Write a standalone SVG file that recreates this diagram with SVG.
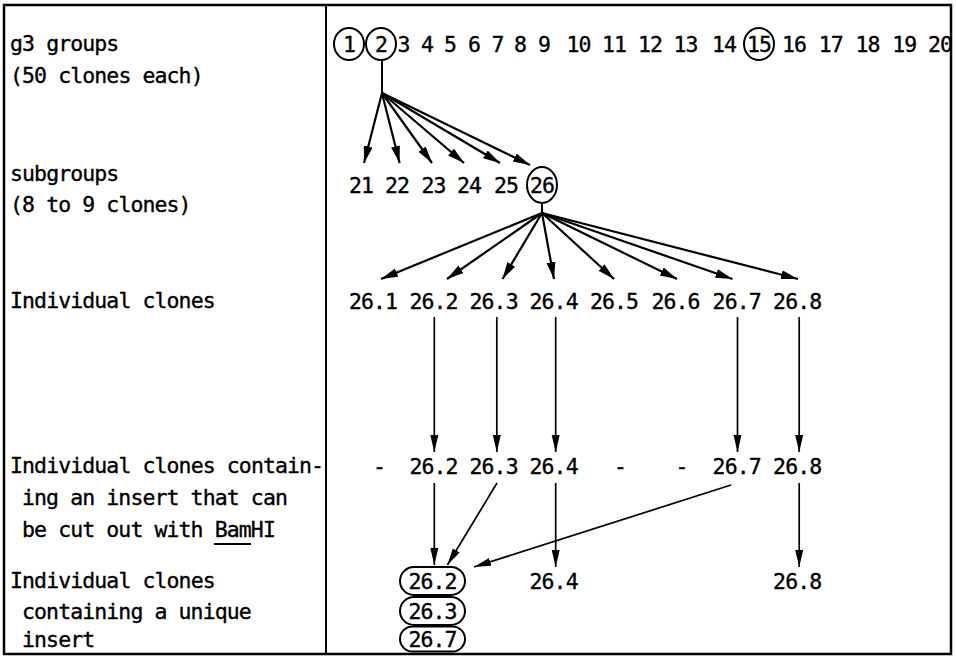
<svg xmlns="http://www.w3.org/2000/svg" width="956" height="657" viewBox="0 0 956 657">
<defs>
<marker id="ah" markerUnits="userSpaceOnUse" markerWidth="18" markerHeight="10" refX="17" refY="4.5" orient="auto"><path d="M0,0 L17,4.5 L0,9 z" fill="#000"/></marker>
<marker id="av" markerUnits="userSpaceOnUse" markerWidth="18" markerHeight="9" refX="17" refY="4" orient="auto"><path d="M0,0 L17,4 L0,8 z" fill="#000"/></marker>
</defs>
<style>
text{font-family:"DejaVu Sans Mono","Liberation Mono",monospace;font-size:21.5px;letter-spacing:-0.9px;fill:#000;stroke:#000;stroke-width:0.35}
.n{text-anchor:middle}
.frame{fill:none;stroke:#000;stroke-width:2.5}
.c{fill:none;stroke:#000;stroke-width:2}
.a{stroke:#000;stroke-width:2.2;fill:none;marker-end:url(#ah)}
.v{stroke:#000;stroke-width:1.7;fill:none;marker-end:url(#av)}
.s{stroke:#000;stroke-width:2;fill:none}
</style>
<rect class="frame" x="4" y="5" width="947" height="649"/>
<line class="s" x1="326" y1="5" x2="326" y2="654" stroke-width="2.5"/>
<g id="labels">
<text x="10" y="51">g3 groups</text>
<text x="10" y="83">(50 clones each)</text>
<text x="10" y="181">subgroups</text>
<text x="10" y="212">(8 to 9 clones)</text>
<text x="10" y="308">Individual clones</text>
<text x="10" y="473">Individual clones contain-</text>
<text x="22" y="505">ing an insert that can</text>
<text x="22" y="537">be cut out with BamHI</text>
<line class="s" x1="214" y1="544" x2="251" y2="544" stroke-width="1.5"/>
<text x="10" y="588">Individual clones</text>
<text x="22" y="619">containing a unique</text>
<text x="22" y="647">insert</text>
</g>
<g id="row1">
<ellipse class="c" cx="349" cy="44" rx="15" ry="16"/>
<ellipse class="c" cx="381" cy="44" rx="15" ry="16"/>
<ellipse class="c" cx="759" cy="44" rx="15" ry="16"/>
<text class="n" x="349" y="52">1</text>
<text class="n" x="381" y="52">2</text>
<text class="n" x="403.6" y="52">3</text>
<text class="n" x="427" y="52">4</text>
<text class="n" x="450" y="52">5</text>
<text class="n" x="474" y="52">6</text>
<text class="n" x="497.6" y="52">7</text>
<text class="n" x="520" y="52">8</text>
<text class="n" x="544" y="52">9</text>
<text class="n" x="578.6" y="52">10</text>
<text class="n" x="614" y="52">11</text>
<text class="n" x="650" y="52">12</text>
<text class="n" x="685.6" y="52">13</text>
<text class="n" x="724" y="52">14</text>
<text class="n" x="759" y="52">15</text>
<text class="n" x="794" y="52">16</text>
<text class="n" x="830.7" y="52">17</text>
<text class="n" x="867.5" y="52">18</text>
<text class="n" x="904.3" y="52">19</text>
<text class="n" x="940" y="52">20</text>
</g>
<g id="row2">
<text class="n" x="361" y="193">21</text>
<text class="n" x="397" y="193">22</text>
<text class="n" x="433.5" y="193">23</text>
<text class="n" x="469" y="193">24</text>
<text class="n" x="506" y="193">25</text>
<ellipse class="c" cx="542" cy="185" rx="15" ry="18"/>
<text class="n" x="542" y="193">26</text>
</g>
<g id="row3">
<text class="n" x="373" y="309">26.1</text>
<text class="n" x="433.5" y="309">26.2</text>
<text class="n" x="493.6" y="309">26.3</text>
<text class="n" x="553.6" y="309">26.4</text>
<text class="n" x="614" y="309">26.5</text>
<text class="n" x="675.5" y="309">26.6</text>
<text class="n" x="736.7" y="309">26.7</text>
<text class="n" x="797.2" y="309">26.8</text>
</g>
<g id="row4">
<text class="n" x="379" y="474">-</text>
<text class="n" x="433.5" y="474">26.2</text>
<text class="n" x="493.6" y="474">26.3</text>
<text class="n" x="553.6" y="474">26.4</text>
<text class="n" x="620" y="474">-</text>
<text class="n" x="681.5" y="474">-</text>
<text class="n" x="736.7" y="474">26.7</text>
<text class="n" x="797.2" y="474">26.8</text>
</g>
<g id="row5">
<rect class="c" x="400" y="567" width="65" height="28" rx="14"/>
<text class="n" x="432.5" y="589">26.2</text>
<rect class="c" x="400" y="597" width="65" height="28" rx="14"/>
<text class="n" x="432.5" y="619">26.3</text>
<rect class="c" x="400" y="626.5" width="65" height="25" rx="12.5"/>
<text class="n" x="432.5" y="647">26.7</text>
<text class="n" x="553.6" y="589">26.4</text>
<text class="n" x="797.2" y="589">26.8</text>
</g>
<g id="connectors">
<line class="s" x1="382" y1="60" x2="382" y2="93"/>
<line class="a" x1="382" y1="93" x2="364" y2="163"/>
<line class="a" x1="382" y1="93" x2="399.6" y2="163"/>
<line class="a" x1="382" y1="93" x2="432" y2="163"/>
<line class="a" x1="382" y1="93" x2="464" y2="163"/>
<line class="a" x1="382" y1="93" x2="500" y2="163"/>
<line class="a" x1="382" y1="93" x2="530" y2="165"/>
<line class="s" x1="542" y1="203" x2="542" y2="213"/>
<line class="a" x1="542" y1="213" x2="381" y2="279"/>
<line class="a" x1="542" y1="213" x2="447" y2="279"/>
<line class="a" x1="542" y1="213" x2="502.5" y2="279"/>
<line class="a" x1="542" y1="213" x2="554" y2="279"/>
<line class="a" x1="542" y1="213" x2="614" y2="279"/>
<line class="a" x1="542" y1="213" x2="677" y2="279"/>
<line class="a" x1="542" y1="213" x2="732.5" y2="279"/>
<line class="a" x1="542" y1="213" x2="798" y2="279"/>
<line class="v" x1="434.3" y1="317" x2="434.3" y2="452"/>
<line class="v" x1="496.8" y1="317" x2="496.8" y2="452"/>
<line class="v" x1="555.7" y1="317" x2="555.7" y2="452"/>
<line class="v" x1="737.5" y1="317" x2="737.5" y2="452"/>
<line class="v" x1="799.2" y1="317" x2="799.2" y2="452"/>
<line class="v" x1="434.3" y1="483" x2="434.3" y2="565"/>
<line class="v" x1="497" y1="483" x2="447.4" y2="565"/>
<line class="v" x1="731" y1="485" x2="474" y2="567"/>
<line class="v" x1="555.7" y1="483" x2="555.7" y2="567"/>
<line class="v" x1="799.2" y1="483" x2="799.2" y2="567"/>
</g>
</svg>
